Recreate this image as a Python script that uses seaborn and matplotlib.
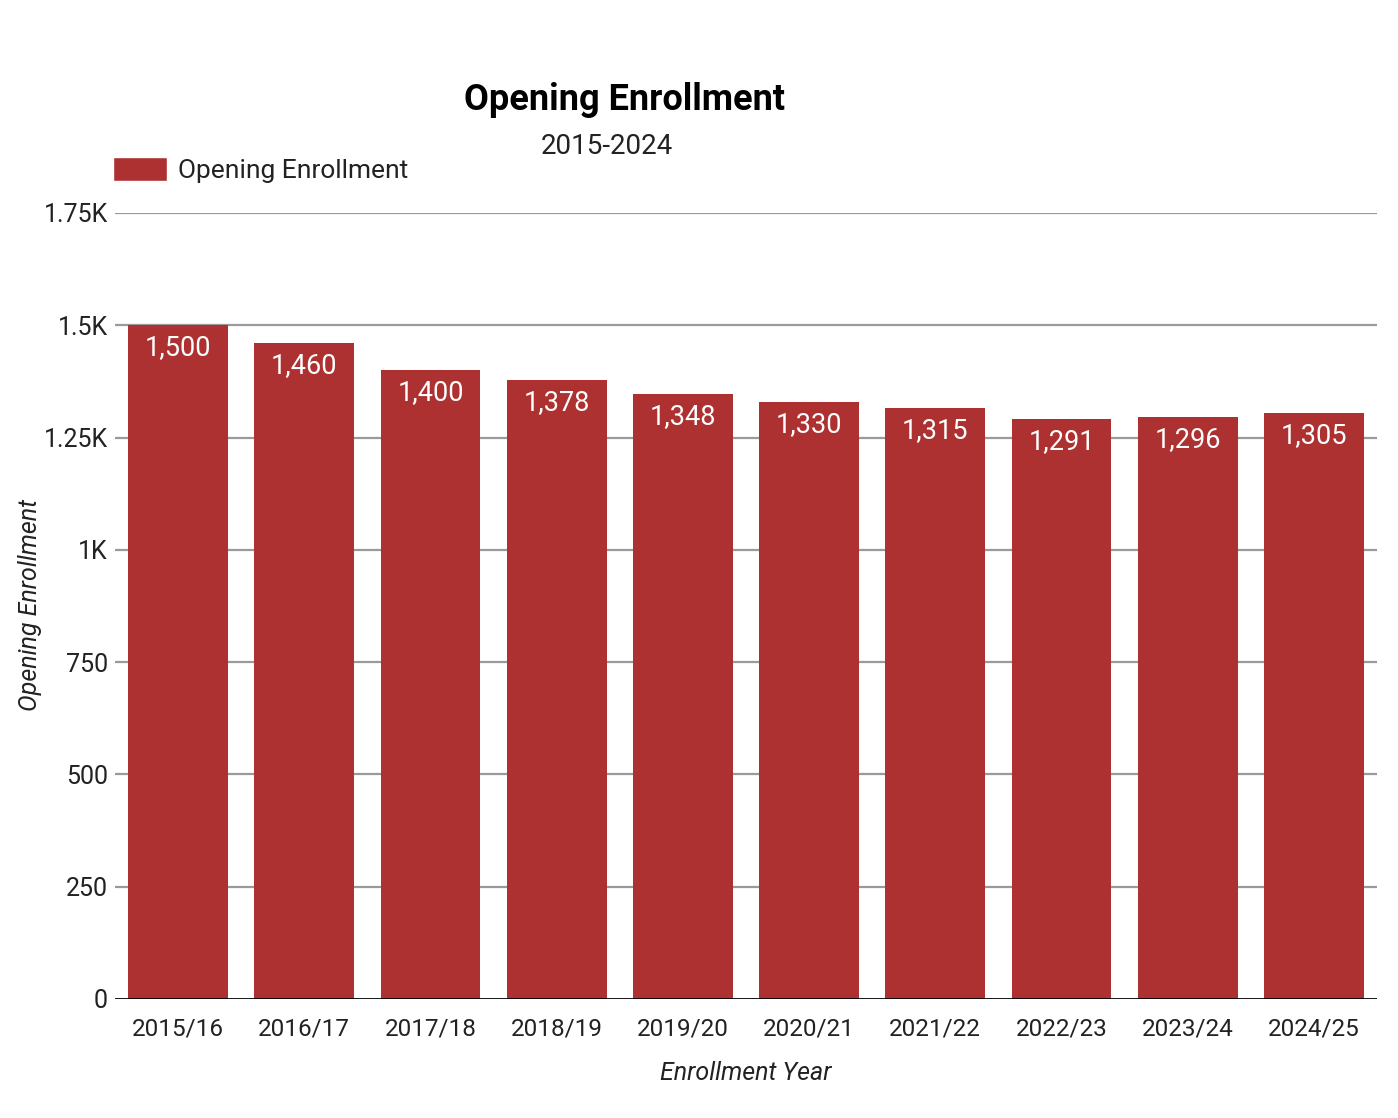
import matplotlib
matplotlib.use("Agg")
import matplotlib.pyplot as plt
import seaborn as sns
import pandas as pd
from matplotlib.ticker import FixedLocator, FixedFormatter
from matplotlib.patches import Patch

years = ["2015/16", "2016/17", "2017/18", "2018/19", "2019/20",
         "2020/21", "2021/22", "2022/23", "2023/24", "2024/25"]
enrollment = [1500, 1460, 1400, 1378, 1348, 1330, 1315, 1291, 1296, 1305]
ytick_vals = [0, 250, 500, 750, 1000, 1250, 1500, 1750]
ytick_labels = ["0", "250", "500", "750", "1K", "1.25K", "1.5K", "1.75K"]

df = pd.DataFrame({"Enrollment Year": years, "Opening Enrollment": enrollment})

sns.set_theme(style="white")
plt.rcParams['font.family'] = ['Roboto', 'DejaVu Sans']

W, H = 1398, 1118
fig = plt.figure(figsize=(W / 100, H / 100), dpi=100)
ax = fig.add_axes([115 / W, 1 - 999 / H, (1377 - 115) / W, (999 - 213) / H])

color = "#AD3130"
sns.barplot(data=df, x="Enrollment Year", y="Opening Enrollment", color=color,
            width=0.79, saturation=1, ax=ax, zorder=2, linewidth=0)

ax.set_ylim(0, 1750)
ax.set_xlim(-0.5, len(years) - 0.5)
ax.yaxis.set_major_locator(FixedLocator(ytick_vals))
ax.yaxis.set_major_formatter(FixedFormatter(ytick_labels))
for v in ytick_vals[1:]:
    ax.axhline(v, color="#9a9a9a", lw=1.6, zorder=1)
ax.axhline(0, color="black", lw=2, zorder=3)

for s in ax.spines.values():
    s.set_visible(False)
ax.tick_params(axis="y", length=0, pad=5, labelsize=18, colors="#222222")
ax.tick_params(axis="x", length=0, pad=13, labelsize=17.5, colors="#222222")

ax.set_xlabel("Enrollment Year", fontsize=18, style="italic", labelpad=15, color="#222222")
ax.set_ylabel("")
fig.text(30 / W, 1 - 605 / H, "Opening Enrollment", rotation=90, fontsize=18,
         style="italic", ha="center", va="center", color="#222222")

for container in ax.containers:
    labels = [f"{int(v):,}" for v in container.datavalues]
    ax.bar_label(container, labels=labels, padding=-26, color="white", fontsize=19.5)

fig.text(624 / W, 1 - 100 / H, "Opening Enrollment", fontsize=26, fontweight="bold",
         ha="center", va="center", color="black")
fig.text(607 / W, 1 - 146 / H, "2015-2024", fontsize=20, ha="center", va="center",
         color="#222222")

leg = fig.legend(handles=[Patch(facecolor=color, label="Opening Enrollment")],
                 loc="center left", bbox_to_anchor=(113 / W, 1 - 170 / H),
                 frameon=False, fontsize=19, handlelength=2.05, handleheight=1.0,
                 handletextpad=0.42, borderpad=0, borderaxespad=0)
for t in leg.get_texts():
    t.set_color("#222222")

fig.savefig("out.png", dpi=100)
